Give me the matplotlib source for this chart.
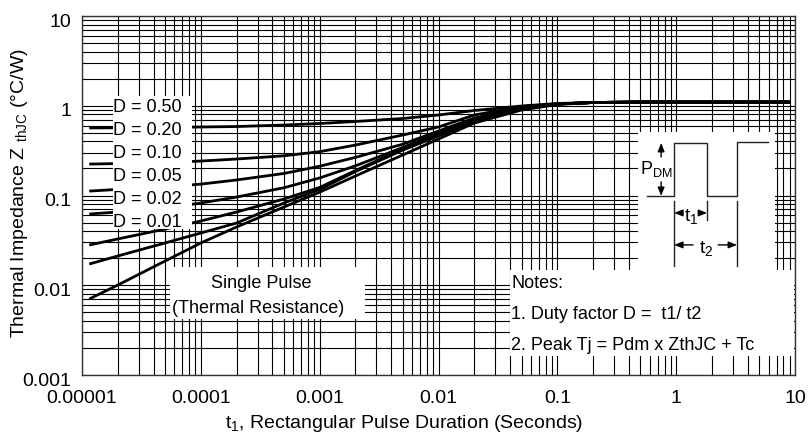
import numpy as np
import matplotlib
import matplotlib.pyplot as plt
from matplotlib.patches import Rectangle
from matplotlib.ticker import FixedLocator, NullFormatter, LogLocator
import matplotlib.transforms as mtransforms

plt.rcParams["font.family"] = ["Liberation Sans", "DejaVu Sans"]
plt.rcParams["mathtext.fontset"] = "custom"
plt.rcParams["mathtext.rm"] = "Liberation Sans"
plt.rcParams["mathtext.it"] = "Liberation Sans:italic"

# pulse duration (s)
t = [1.15e-5, 2e-5, 5e-5, 1e-4, 2e-4, 5e-4, 1e-3, 2e-3, 5e-3,
     1e-2, 2e-2, 5e-2, 0.1, 0.2, 0.5, 1.0, 9.0]

# thermal impedance Zth(j-c) for each duty factor (degC/W)
z_d050 = [0.566, 0.568, 0.573, 0.580, 0.587, 0.610, 0.634, 0.668, 0.721,
          0.789, 0.885, 0.994, 1.06, 1.087, 1.10, 1.10, 1.10]
z_d020 = [0.224, 0.227, 0.233, 0.242, 0.255, 0.277, 0.308, 0.365, 0.472,
          0.580, 0.789, 0.981, 1.046, 1.087, 1.10, 1.10, 1.10]
z_d010 = [0.112, 0.117, 0.124, 0.134, 0.149, 0.176, 0.212, 0.266, 0.373,
          0.523, 0.730, 0.969, 1.046, 1.087, 1.10, 1.10, 1.10]
z_d005 = [0.0622, 0.0655, 0.0726, 0.0825, 0.0962, 0.122, 0.157, 0.214, 0.343,
          0.497, 0.712, 0.944, 1.046, 1.087, 1.10, 1.10, 1.10]
z_d002 = [0.0281, 0.0328, 0.0423, 0.052, 0.0655, 0.0914, 0.123, 0.190, 0.330,
          0.472, 0.685, 0.920, 1.046, 1.087, 1.10, 1.10, 1.10]
z_d001 = [0.01725, 0.0212, 0.0296, 0.0382, 0.0494, 0.0825, 0.117, 0.185, 0.321,
          0.460, 0.668, 0.920, 1.046, 1.087, 1.10, 1.10, 1.10]
z_single = [0.00703, 0.01006, 0.01863, 0.0296, 0.0446, 0.0744, 0.109, 0.165, 0.283,
            0.426, 0.642, 0.897, 1.033, 1.087, 1.10, 1.10, 1.10]

curves = [z_d050, z_d020, z_d010, z_d005, z_d002, z_d001, z_single]
duty_labels = ["D = 0.50", "D = 0.20", "D = 0.10", "D = 0.05", "D = 0.02", "D = 0.01"]

x_ticks = [1e-5, 1e-4, 1e-3, 1e-2, 1e-1, 1, 10]
x_tick_labels = ["0.00001", "0.0001", "0.001", "0.01", "0.1", "1", "10"]
y_ticks = [1e-3, 1e-2, 1e-1, 1, 10]
y_tick_labels = ["0.001", "0.01", "0.1", "1", "10"]

fig = plt.figure(figsize=(8.09, 4.35), dpi=100)
ax = fig.add_axes([0.1014, 0.1356, 0.8813, 0.8253])
ax.set_xscale("log")
ax.set_yscale("log")
ax.set_xlim(1e-5, 10)
ax.set_ylim(1e-3, 10)

ax.xaxis.set_major_locator(FixedLocator(x_ticks))
ax.set_xticklabels(x_tick_labels)
ax.yaxis.set_major_locator(FixedLocator(y_ticks))
ax.set_yticklabels(y_tick_labels)
ax.xaxis.set_minor_locator(LogLocator(base=10, subs=np.arange(2, 10), numticks=20))
ax.yaxis.set_minor_locator(LogLocator(base=10, subs=np.arange(2, 10), numticks=20))
ax.xaxis.set_minor_formatter(NullFormatter())
ax.yaxis.set_minor_formatter(NullFormatter())

ax.grid(True, which="both", color="black", lw=0.8)
ax.set_axisbelow(True)
ax.tick_params(which="both", direction="in", top=True, right=True, length=3,
               width=0.6, labelsize=14)
ax.tick_params(axis="x", pad=10)
ax.tick_params(axis="y", pad=8)
for sp in ax.spines.values():
    sp.set_linewidth(1.0)
    sp.set_color("#333333")

# nudge y tick labels down a little
shift = mtransforms.ScaledTranslation(0, -3 / 100, fig.dpi_scale_trans)
for lab in ax.get_yticklabels():
    lab.set_transform(lab.get_transform() + shift)

for z in curves:
    ax.plot(t, z, color="black", lw=2.0, zorder=2, solid_capstyle="butt")

ax.set_xlabel("t$_1$, Rectangular Pulse Duration (Seconds)", fontsize=14)
ax.xaxis.set_label_coords(0.452, -0.104)
ax.set_ylabel("Thermal Impedance Z $_{\\mathregular{thJC}}$ (°C/W)", fontsize=14)
ax.yaxis.set_label_coords(-0.073, 0.51)

# white boxes holding the annotations
def white_box(x0, y0, x1, y1):
    ax.add_patch(Rectangle((x0, y0), x1 - x0, y1 - y0, transform=ax.transAxes,
                           facecolor="white", edgecolor="none", zorder=3))

white_box(0.0435, 0.407, 0.154, 0.777)
white_box(0.1234, 0.156, 0.3969, 0.301)
white_box(0.600, 0.053, 0.998, 0.292)

label_y = [0.749, 0.685, 0.621, 0.557, 0.493, 0.429]
for lab, yy in zip(duty_labels, label_y):
    ax.text(0.0435, yy, lab, transform=ax.transAxes, fontsize=13,
            ha="left", va="center", zorder=4)

ax.text(0.252, 0.258, "Single Pulse", transform=ax.transAxes, fontsize=13,
        ha="center", va="center", zorder=4)
ax.text(0.2475, 0.189, "(Thermal Resistance)", transform=ax.transAxes, fontsize=13,
        ha="center", va="center", zorder=4)

notes = ["Notes:", "1. Duty factor D =  t1/ t2", "2. Peak Tj = Pdm x ZthJC + Tc"]
for line, yy in zip(notes, [0.259, 0.170, 0.086]):
    ax.text(0.6017, yy, line, transform=ax.transAxes, fontsize=13,
            ha="left", va="center", zorder=4)

# pulse train sketch
ins = ax.inset_axes([0.780, 0.290, 0.192, 0.387], zorder=5)
ins.set_facecolor("white")
ins.set_xlim(0, 137)
ins.set_ylim(139, 0)
ins.set_xticks([])
ins.set_yticks([])
for sp in ins.spines.values():
    sp.set_visible(False)

wave_u = [9, 36, 36, 69, 69, 99, 99, 130]
wave_v = [64, 64, 11, 11, 64, 64, 10, 10]
ins.plot(wave_u, wave_v, color="#222222", lw=1.0)
for u, v0, v1 in [(36, 69, 134), (69, 69, 88), (99, 69, 134)]:
    ins.plot([u, u], [v0, v1], color="#222222", lw=1.0)

arrow = dict(arrowstyle="-|>,head_length=0.5,head_width=0.2", color="black", lw=1.0,
             shrinkA=0, shrinkB=0)
ins.annotate("", xy=(23, 11), xytext=(23, 25), arrowprops=arrow)
ins.annotate("", xy=(23, 64), xytext=(23, 50), arrowprops=arrow)
ins.annotate("", xy=(36, 81), xytext=(45, 81), arrowprops=arrow)
ins.annotate("", xy=(69, 81), xytext=(61, 81), arrowprops=arrow)
ins.annotate("", xy=(36, 113), xytext=(55, 113), arrowprops=arrow)
ins.annotate("", xy=(99, 113), xytext=(80, 113), arrowprops=arrow)

ins.text(18, 36, "P$_{\\mathregular{DM}}$", fontsize=13, ha="center", va="center")
ins.text(53, 84, "t$_{\\mathregular{1}}$", fontsize=14, ha="center", va="center")
ins.text(68, 116, "t$_{\\mathregular{2}}$", fontsize=14, ha="center", va="center")

fig.savefig("out.png", dpi=100)
